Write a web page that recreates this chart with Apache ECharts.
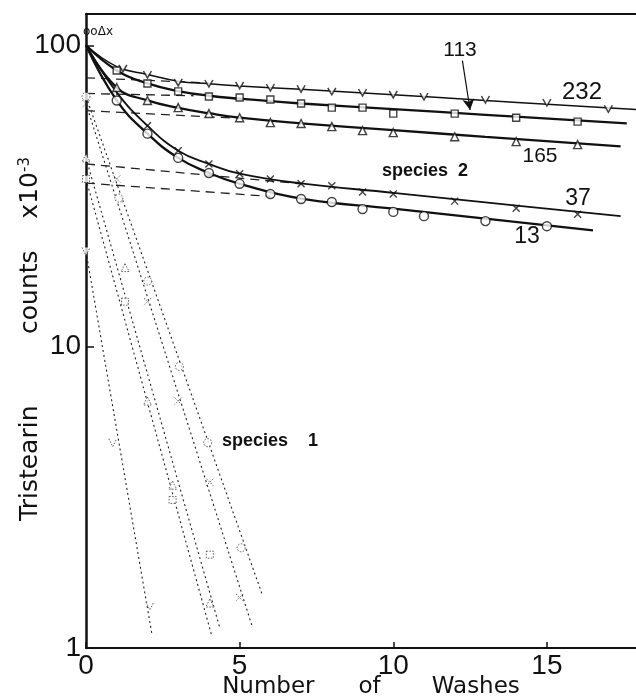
<!DOCTYPE html>
<html>
<head>
<meta charset="utf-8">
<script src="https://cdn.jsdelivr.net/npm/echarts@6/dist/echarts.min.js"></script>
<style>
  html, body { margin: 0; padding: 0; background: #fff; }
  #chart { width: 636px; height: 700px; }
</style>
</head>
<body>
<div id="chart"></div>
<script>
// all values: [number of washes, tristearin counts x 1e-3]

var pts232 = [[1.2, 83.8], [2, 80], [3, 75.3], [4, 74.7], [5, 73.6], [6, 72.4], [7, 71.7], [8, 70.3], [9, 69.7], [10, 68.7], [11, 67.6], [13, 66.1], [15, 64.6], [17, 61.6]];
var pts113 = [[1, 82.5], [2, 74.7], [3, 70.3], [4, 67.6], [5, 67.1], [6, 66.1], [7, 64.1], [8, 62.1], [9, 62.1], [10, 59.3], [12, 59.3], [14, 57.5], [16, 55.8]];
var pts165 = [[1, 72.4], [2, 65.6], [3, 62.1], [4, 59.3], [5, 57.5], [6, 55.4], [7, 55], [8, 53.7], [9, 52.1], [10, 51.3], [12, 49.7], [14, 47.9], [16, 46.8]];
var pts37 = [[2, 54.1], [3, 44.7], [4, 40.4], [5, 37.5], [6, 36], [7, 34.7], [8, 34.2], [9, 32.6], [10, 32.1], [12, 30.4], [14, 28.8], [16, 27.5]];
var pts13 = [[1, 65.6], [2, 50.9], [3, 42.3], [4, 37.7], [5, 34.7], [6, 32.1], [7, 30.9], [8, 30.2], [9, 28.6], [10, 28], [11, 27.1], [13, 26.1], [15, 25.1]];

// the hand-drawn solid curves through them
var curve232 = [[0, 100], [1, 85], [2, 80], [3, 76], [4, 74.5], [5, 73.3], [7, 71.4], [10, 68.5], [13, 65.6], [17.9, 61.2]];
var curve113 = [[0, 100], [1, 82.5], [2, 74.7], [3, 70.5], [4, 68], [5, 66.5], [7, 64.1], [10, 61.4], [13, 58.8], [17.6, 55.1]];
var curve165 = [[0, 100], [1, 72.4], [2, 65.6], [3, 62], [4, 59.5], [5, 57.5], [7, 55.1], [10, 52.3], [13, 49.7], [17.4, 46.2]];
var curve37 = [[0, 100], [1, 69.8], [2, 54.1], [3, 44.7], [4, 40.4], [5, 37.5], [7, 34.8], [10, 32.4], [13, 30.1], [17.4, 27.1]];
var curve13 = [[0, 100], [1, 65.6], [2, 50.9], [3, 42.3], [4, 37.7], [5, 34.7], [7, 31], [10, 28.7], [13, 26.6], [16.5, 24.3]];

// dashed back-extrapolations of species 2
var dash232 = [[0, 78], [4, 75]];
var dash113 = [[0, 69.2], [3.5, 68]];
var dash165 = [[0, 60.7], [5, 57.2]];
var dash37 = [[0, 40.4], [7, 34.7]];
var dash13 = [[0, 34.9], [6, 31.5]];

// species 1 (dotted lines and their points)
var line1_13 = [[0, 67.6], [5.75, 1.49]];
var line1_37 = [[0, 64], [5.42, 1.17]];
var line1_165 = [[0, 42.3], [4.35, 1.17]];
var line1_113 = [[0, 36], [4.09, 1.1]];
var line1_232 = [[0, 20.7], [2.14, 1.12]];
var sp1_13 = [[0, 67.6], [1.07, 31.1], [2.01, 16.5], [3.04, 8.6], [3.96, 4.8], [5.05, 2.15]];
var sp1_37 = [[0, 64], [1, 36], [2, 14.1], [3, 6.6], [4.03, 3.55], [5, 1.47]];
var sp1_165 = [[0, 42.3], [1.27, 18.3], [2, 6.6], [2.82, 3.47], [4.03, 1.41]];
var sp1_113 = [[0, 36], [1.27, 14.1], [2.82, 3.1], [4.03, 2.04]];
var sp1_232 = [[0, 20.7], [0.87, 4.8], [2.08, 1.38]];

var xTicks = [0, 5, 10, 15];
var yTicks = [1, 10, 100];
var arrow113 = [[12.25, 89], [12.5, 61]];

var ink = '#111';
var numFont = "'Liberation Sans', sans-serif";
var textFont = "'DejaVu Sans', sans-serif";
var symV = 'path://M0,0L5,10L10,0';
var symX = 'path://M0,0L10,10M10,0L0,10';

function curve(d, width) {
  return {
    type: 'line', data: d, showSymbol: false, smooth: 0.45,
    lineStyle: { color: ink, width: width }, z: 3, silent: true
  };
}
function marks(pts, sym, size, dotted) {
  return {
    type: 'scatter', data: pts, symbol: sym, symbolSize: size, silent: true,
    itemStyle: {
      color: '#fff', borderColor: dotted ? '#333' : ink,
      borderWidth: dotted ? 1 : 1.4, borderType: dotted ? [1.5, 1.5] : 'solid'
    },
    z: 6
  };
}
function straight(pts, dash, width) {
  return {
    type: 'line', data: pts, showSymbol: false, silent: true,
    lineStyle: { color: '#222', width: width, type: dash }, z: 2
  };
}

var chart = echarts.init(document.getElementById('chart'));
var option = {
  animation: false,
  backgroundColor: '#fff',
  grid: { left: 86, right: 0, top: 14, bottom: 52, outerBoundsMode: 'none' },
  xAxis: [{
    type: 'value', min: 0, max: 17.9, interval: 5,
    axisLine: { lineStyle: { color: ink, width: 2 } },
    axisTick: { inside: true, length: 6, lineStyle: { color: ink, width: 1.5 }, customValues: xTicks },
    axisLabel: {
      color: ink, fontFamily: numFont, fontSize: 28, margin: 4,
      customValues: xTicks,
      formatter: function (v) { return v % 5 === 0 ? String(v) : ''; }
    },
    splitLine: { show: false }
  }, {
    type: 'value', position: 'top', min: 0, max: 17.9,
    axisLine: { show: true, onZero: false, lineStyle: { color: ink, width: 2 } },
    axisTick: { show: false }, axisLabel: { show: false }, splitLine: { show: false }
  }],
  yAxis: {
    type: 'log', logBase: 10, min: 1, max: 127,
    axisLine: { show: true, lineStyle: { color: ink, width: 2.5 } },
    axisTick: { inside: true, length: 8, lineStyle: { color: ink, width: 1.5 }, customValues: yTicks },
    axisLabel: {
      color: ink, fontFamily: numFont, fontSize: 28, margin: 5, customValues: yTicks,
      formatter: function (v) {
        var l = Math.log10(v);
        return Math.abs(l - Math.round(l)) < 1e-6 ? String(Math.round(v)) : '';
      }
    },
    splitLine: { show: false }, minorTick: { show: false }
  },
  series: [
    // species 1
    straight(line1_13, [2, 3], 1.1),
    straight(line1_37, [2, 3], 1.1),
    straight(line1_165, [2, 3], 1.1),
    straight(line1_113, [2, 3], 1.1),
    straight(line1_232, [2, 3], 1.1),
    // species 2 extrapolations
    straight(dash232, [9, 6], 1.3),
    straight(dash113, [9, 6], 1.3),
    straight(dash165, [9, 6], 1.3),
    straight(dash37, [9, 6], 1.3),
    straight(dash13, [9, 6], 1.3),
    // species 2 curves
    curve(curve232, 1.5),
    curve(curve113, 2.3),
    curve(curve165, 2.3),
    curve(curve37, 1.8),
    curve(curve13, 2.3),
    // points
    marks(pts232, symV, [8, 7], false),
    marks(pts113, 'rect', 7, false),
    marks(pts165, 'triangle', 8, false),
    marks(pts37, symX, 7, false),
    marks(pts13, 'circle', 9, false),
    marks(sp1_13, 'circle', 8, true),
    marks(sp1_37, symX, 7, true),
    marks(sp1_165, 'triangle', 8, true),
    marks(sp1_113, 'rect', 7, true),
    marks(sp1_232, symV, [8, 8], true),
    {
      type: 'line', data: [], silent: true,
      markLine: {
        silent: true, symbol: ['none', 'arrow'], symbolSize: [9, 11], label: { show: false },
        lineStyle: { color: ink, width: 1.2, type: 'solid' },
        data: [[{ coord: arrow113[0] }, { coord: arrow113[1] }]]
      }
    }
  ],
  graphic: [
    { type: 'text', x: 83, y: 32, style: { text: 'ooΔx', fontSize: 12, fontFamily: textFont, fill: ink, align: 'left', verticalAlign: 'middle' } },
    { type: 'text', x: 582, y: 92, style: { text: '232', fontSize: 24, fontFamily: numFont, fill: ink, align: 'center', verticalAlign: 'middle' } },
    { type: 'text', x: 460, y: 50, style: { text: '113', fontSize: 21, fontFamily: numFont, fill: ink, align: 'center', verticalAlign: 'middle' } },
    { type: 'text', x: 540, y: 156, style: { text: '165', fontSize: 21, fontFamily: numFont, fill: ink, align: 'center', verticalAlign: 'middle' } },
    { type: 'text', x: 578, y: 199, style: { text: '37', fontSize: 23, fontFamily: numFont, fill: ink, align: 'center', verticalAlign: 'middle' } },
    { type: 'text', x: 527, y: 237, style: { text: '13', fontSize: 23, fontFamily: numFont, fill: ink, align: 'center', verticalAlign: 'middle' } },
    { type: 'text', x: 382, y: 171, style: { text: 'species  2', fontSize: 18, fontWeight: 'bold', fontFamily: "'Liberation Sans', sans-serif", fill: ink, align: 'left', verticalAlign: 'middle' } },
    { type: 'text', x: 222, y: 441, style: { text: 'species    1', fontSize: 18, fontWeight: 'bold', fontFamily: "'Liberation Sans', sans-serif", fill: ink, align: 'left', verticalAlign: 'middle' } },
    { type: 'text', x: 371, y: 687, style: { text: 'Number      of       Washes', fontSize: 23, fontFamily: textFont, fill: ink, align: 'center', verticalAlign: 'middle' } },
    {
      type: 'text', x: 30, y: 339, rotation: Math.PI / 2,
      style: {
        text: 'Tristearin         counts    {n|x10}{s|-3}', fontSize: 25, fontFamily: textFont, fill: ink,
        align: 'center', verticalAlign: 'middle',
        rich: {
          n: { fontSize: 25, fontFamily: textFont, fill: ink },
          s: { fontSize: 15, fontFamily: textFont, fill: ink, verticalAlign: 'top', padding: [0, 0, 10, 0] }
        }
      }
    }
  ]
};
chart.setOption(option);
window.addEventListener('resize', function () { chart.resize(); });
</script>
</body>
</html>
